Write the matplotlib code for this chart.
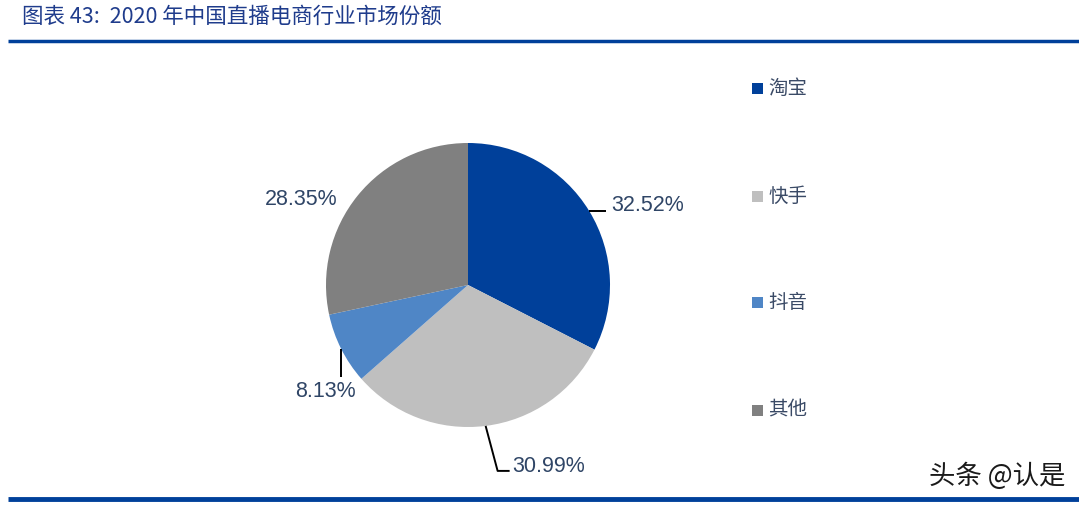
import numpy as np
import matplotlib
matplotlib.use("Agg")
import matplotlib.pyplot as plt
from matplotlib.patches import Rectangle

plt.rcParams['font.family'] = ['Noto Sans CJK SC', 'DejaVu Sans']

# ---- data ----
categories = ['淘宝', '快手', '抖音', '其他']
shares = [32.52, 30.99, 8.13, 28.35]
label_texts = ['32.52%', '30.99%', '8.13%', '28.35%']
colors = ['#00409A', '#BFBFBF', '#4F86C6', '#808080']
title = '图表 43:  2020 年中国直播电商行业市场份额'
watermark = '头条 @认是'

W, H = 1079, 505
fig = plt.figure(figsize=(W / 100, H / 100), dpi=100)
ax = fig.add_axes([0, 0, 1, 1])

cx, cy, R = 468, 285, 142
wedges, _ = ax.pie(shares, colors=colors, startangle=-90, counterclock=True,
                   center=(cx, cy), radius=R, frame=False,
                   wedgeprops=dict(linewidth=0))
ax.set_xlim(0, W)
ax.set_ylim(H, 0)
ax.set_aspect('equal')
ax.axis('off')

# anchors on wedge edges at mid angles (data angles; y axis inverted)
anchors = []
for w in wedges:
    mid = np.deg2rad((w.theta1 + w.theta2) / 2)
    anchors.append((cx + R * np.cos(mid), cy + R * np.sin(mid)))

lab_color = '#2F4566'
lab_font = dict(fontsize=15.5, color=lab_color, family=['Liberation Sans', 'DejaVu Sans'])
lc = dict(color='black', lw=1.4, solid_capstyle='butt')

# Taobao
ax0, ay0 = anchors[0]
ax.plot([ax0, ax0 + 17], [ay0, ay0], **lc)
ax.text(ax0 + 22, ay0 - 5, label_texts[0], ha='left', va='center', **lab_font)
# Kuaishou
a1x, a1y = anchors[1]
ax.plot([a1x, a1x + 12, a1x + 24], [a1y, a1y + 45, a1y + 45], **lc)
ax.text(a1x + 27, a1y + 41, label_texts[1], ha='left', va='center', **lab_font)
# Douyin
a2x, a2y = anchors[2]
ax.plot([a2x, a2x], [a2y, a2y + 28], **lc)
ax.text(a2x - 16, a2y + 43, label_texts[2], ha='center', va='center', **lab_font)
# Others
a3x, a3y = anchors[3]
ax.text(a3x - 20, a3y + 4, label_texts[3], ha='right', va='center', **lab_font)

# legend
leg_y = [88, 196, 302, 410]
for cat, col, y in zip(categories, colors, leg_y):
    ax.add_patch(Rectangle((752, y - 5.5), 11, 11, facecolor=col, edgecolor='none'))
    ax.text(768, y, cat, ha='left', va='center', fontsize=14, color='#3A4A66')

# title and rules
ax.text(22, 17, title, ha='left', va='center', fontsize=15.5, color='#1F3C8C',
        style='italic')
ax.plot([8, W], [41, 41], color='#00409A', lw=2.5, solid_capstyle='butt')
ax.plot([8, W], [499, 499], color='#00409A', lw=3.5, solid_capstyle='butt')

ax.text(1065, 476, watermark, ha='right', va='center', fontsize=19, color='#1A1A1A',
        fontweight='medium')

fig.savefig('out.png', dpi=100)
